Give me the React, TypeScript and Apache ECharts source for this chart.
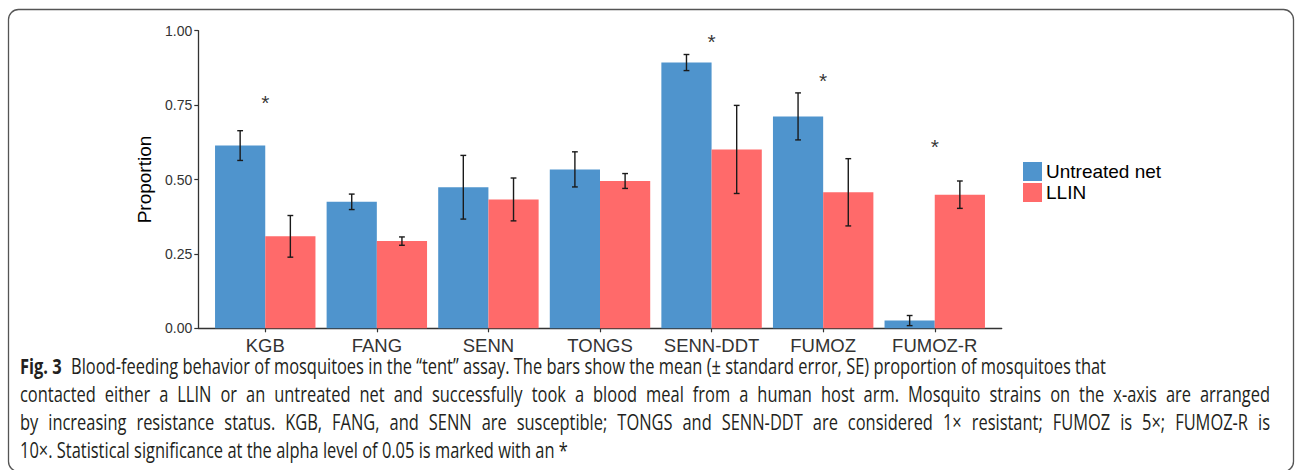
import React, { useEffect, useRef } from "react";
import * as echarts from "echarts";

const categories = ["KGB", "FANG", "SENN", "TONGS", "SENN-DDT", "FUMOZ", "FUMOZ-R"];
const untreatedMean = [0.614, 0.425, 0.474, 0.534, 0.893, 0.712, 0.026];
const untreatedSE = [0.05, 0.026, 0.107, 0.059, 0.027, 0.079, 0.017];
const llinMean = [0.309, 0.293, 0.433, 0.495, 0.601, 0.457, 0.449];
const llinSE = [0.07, 0.014, 0.072, 0.025, 0.148, 0.113, 0.046];
const significanceY = [0.767, null, null, null, 0.969, 0.84, 0.616];
const seriesNames = ["Untreated net", "LLIN"];
const yTickStep = 0.25;

const captionLabel = "Fig. 3";
const captionLines = [
  "Blood-feeding behavior of mosquitoes in the \u201ctent\u201d assay. The bars show the mean (\u00b1 standard error, SE) proportion of mosquitoes that",
  "contacted either a LLIN or an untreated net and successfully took a blood meal from a human host arm. Mosquito strains on the x-axis are arranged",
  "by increasing resistance status. KGB, FANG, and SENN are susceptible; TONGS and SENN-DDT are considered 1\u00d7 resistant; FUMOZ is 5\u00d7; FUMOZ-R is",
  "10\u00d7. Statistical significance at the alpha level of 0.05 is marked with an *",
];

const BLUE = "#4F94CD";
const RED = "#FF6A6A";
const FONT = "Liberation Sans";
const CAPFONT = "Open Sans";

function makeErrRender(sign: number) {
  return (params: any, api: any) => {
    const ci = api.value(0);
    const lo = api.value(1);
    const hi = api.value(2);
    const band = api.size([1, 0])[0];
    const off = sign * band * 0.225;
    const p1 = api.coord([ci, lo]);
    const p2 = api.coord([ci, hi]);
    const x = p1[0] + off;
    const cap = band * 0.026;
    const style = { stroke: "#1a1a1a", lineWidth: 1.4 };
    return {
      type: "group",
      children: [
        { type: "line", shape: { x1: x, y1: p1[1], x2: x, y2: p2[1] }, style },
        { type: "line", shape: { x1: x - cap, y1: p1[1], x2: x + cap, y2: p1[1] }, style },
        { type: "line", shape: { x1: x - cap, y1: p2[1], x2: x + cap, y2: p2[1] }, style },
      ],
    };
  };
}

function buildCaption(): any[] {
  const size = 21;
  const cv = document.createElement("canvas");
  const ctx = cv.getContext("2d");
  const measure = (t: string, bold: boolean) => {
    if (!ctx) return t.length * size * 0.5;
    ctx.font = `${bold ? "bold " : ""}${size}px "${CAPFONT}"`;
    return ctx.measureText(t).width;
  };
  const space = measure(" ", false);
  type Tok = { t: string; b: boolean; gapAfter: number };
  const lines: Tok[][] = captionLines.map((l, i) => {
    const words = l.split(" ").map((w) => ({ t: w, b: false, gapAfter: space }));
    if (i === 0) {
      const lab = captionLabel.split(" ").map((w) => ({ t: w, b: true, gapAfter: space }));
      lab[lab.length - 1].gapAfter = space * 2.2;
      return [...lab, ...words];
    }
    return words;
  });
  const natural = (ln: Tok[]) =>
    ln.reduce((s, w, k) => s + measure(w.t, w.b) + (k < ln.length - 1 ? w.gapAfter : 0), 0);
  const sx = 1086 / natural(lines[0]);
  const justify = [false, true, true, false];
  const left = 20;
  const els: any[] = [];
  lines.forEach((ln, i) => {
    const y = 366 + i * 28;
    let gapScale = 1;
    if (justify[i]) {
      const wsum = ln.reduce((s, w) => s + measure(w.t, w.b) * sx, 0);
      const g = (1250 - wsum) / (ln.length - 1);
      gapScale = g / (space * sx);
    }
    let x = left;
    ln.forEach((w, k) => {
      els.push({
        type: "text",
        x,
        y,
        scaleX: sx,
        silent: true,
        style: {
          text: w.t,
          fontFamily: CAPFONT,
          fontSize: size,
          fontWeight: w.b ? "bold" : "normal",
          fill: "#231f20",
          verticalAlign: "middle",
        },
      });
      const g = justify[i] ? space * sx * gapScale : w.gapAfter * sx;
      x += measure(w.t, w.b) * sx + g;
    });
  });
  return els;
}

export default function App() {
  const ref = useRef<HTMLDivElement>(null);
  useEffect(() => {
    if (!ref.current) return;
    const chart = echarts.init(ref.current, undefined, { renderer: "svg" });

    const axisLeft = 198.3;
    const axisWidth = 803.4;
    const unit = axisWidth / 7.2;
    const top = 30.7;
    const height = 297.6;

    let captionEls: any[] = [];
    try {
      captionEls = buildCaption();
    } catch (e) {
      captionEls = [];
    }

    const option: any = {
      animation: false,
      backgroundColor: "#fff",
      textStyle: { fontFamily: FONT },
      grid: [
        { left: axisLeft, top, width: axisWidth, height },
        { left: axisLeft + 0.1 * unit, top, width: 7 * unit, height },
      ],
      xAxis: [
        {
          gridIndex: 0,
          type: "value",
          min: 0,
          max: 1,
          axisLine: { show: true, lineStyle: { color: "#333", width: 1.3 } },
          axisTick: { show: false },
          axisLabel: { show: false },
          splitLine: { show: false },
        },
        {
          gridIndex: 1,
          type: "category",
          data: categories,
          axisLine: { show: false },
          axisTick: { show: true, alignWithLabel: true, interval: 0, length: 4, lineStyle: { color: "#333", width: 1.2 } },
          axisLabel: { color: "#333", fontSize: 18.5, fontFamily: FONT, margin: 8, interval: 0 },
          splitLine: { show: false },
        },
      ],
      yAxis: [
        {
          gridIndex: 0,
          type: "value",
          min: 0,
          max: 1,
          interval: yTickStep,
          name: "Proportion",
          nameLocation: "middle",
          nameRotate: 90,
          nameGap: 39,
          nameTextStyle: { color: "#000", fontSize: 19, fontFamily: FONT },
          axisLine: { show: true, lineStyle: { color: "#333", width: 1.3 } },
          axisTick: { show: true, length: 4, lineStyle: { color: "#333", width: 1.2 } },
          axisLabel: { color: "#333", fontSize: 14, fontFamily: FONT, margin: 6, formatter: (v: number) => v.toFixed(2) },
          splitLine: { show: false },
        },
        { gridIndex: 1, type: "value", min: 0, max: 1, show: false },
      ],
      legend: {
        orient: "vertical",
        left: 1023,
        top: 162,
        itemWidth: 19,
        itemHeight: 19,
        itemGap: 2,
        icon: "rect",
        padding: 0,
        data: seriesNames,
        textStyle: { fontSize: 19, color: "#000", fontFamily: FONT, lineHeight: 19, padding: [0, 0, 0, -1] },
      },
      series: [
        {
          name: seriesNames[0],
          type: "bar",
          xAxisIndex: 1,
          yAxisIndex: 1,
          data: untreatedMean,
          barGap: "0%",
          barCategoryGap: "10%",
          itemStyle: { color: BLUE },
        },
        {
          name: seriesNames[1],
          type: "bar",
          xAxisIndex: 1,
          yAxisIndex: 1,
          data: llinMean,
          barGap: "0%",
          barCategoryGap: "10%",
          itemStyle: { color: RED },
        },
        {
          type: "custom",
          xAxisIndex: 1,
          yAxisIndex: 1,
          renderItem: makeErrRender(-1),
          encode: { x: 0, y: [1, 2] },
          clip: false,
          z: 5,
          data: untreatedMean.map((m, i) => [i, m - untreatedSE[i], m + untreatedSE[i]]),
        },
        {
          type: "custom",
          xAxisIndex: 1,
          yAxisIndex: 1,
          renderItem: makeErrRender(1),
          encode: { x: 0, y: [1, 2] },
          clip: false,
          z: 5,
          data: llinMean.map((m, i) => [i, m - llinSE[i], m + llinSE[i]]),
        },
        {
          type: "scatter",
          xAxisIndex: 1,
          yAxisIndex: 1,
          symbolSize: 0,
          silent: true,
          data: significanceY
            .map((v, i) => (v == null ? null : [i, v]))
            .filter((d) => d != null),
          label: {
            show: true,
            position: "inside",
            formatter: "*",
            color: "#000",
            fontSize: 21,
            fontFamily: FONT,
            offset: [0, 2],
          },
        },
      ],
      graphic: [
        {
          type: "rect",
          shape: { x: 8.5, y: 9.5, width: 1285, height: 462, r: 10 },
          style: { fill: "none", stroke: "#555", lineWidth: 1.3 },
          silent: true,
        },
        ...captionEls,
      ],
    };
    chart.setOption(option);
    return () => chart.dispose();
  }, []);
  return (
    <div
      ref={ref}
      style={{ position: "absolute", left: 0, top: 0, width: 1296, height: 470, background: "#fff" }}
    />
  );
}
